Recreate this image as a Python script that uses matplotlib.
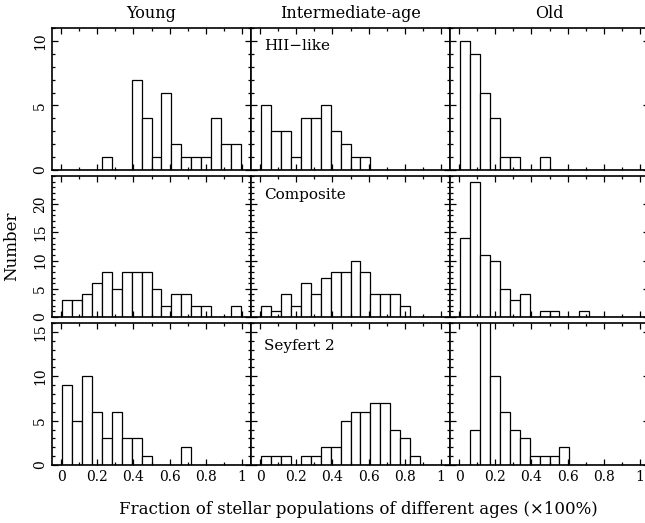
import numpy as np
import matplotlib
matplotlib.use('Agg')
import matplotlib.pyplot as plt
from matplotlib.ticker import MultipleLocator

plt.rcParams['font.family'] = 'DejaVu Serif'

# 20 bins from -0.05 to 1.05
edges = np.linspace(-0.05, 1.05, 21)

young_hii = [0, 0, 0, 0, 0, 1, 0, 0, 7, 4, 1, 6, 2, 1, 1, 1, 4, 2, 2, 0]
inter_hii = [0, 5, 3, 3, 1, 4, 4, 5, 3, 2, 1, 1, 0, 0, 0, 0, 0, 0, 0, 0]
old_hii = [0, 10, 9, 6, 4, 1, 1, 0, 0, 1, 0, 0, 0, 0, 0, 0, 0, 0, 0, 0]

young_comp = [0, 3, 3, 4, 6, 8, 5, 8, 8, 8, 5, 2, 4, 4, 2, 2, 0, 0, 2, 0]
inter_comp = [0, 2, 1, 4, 2, 6, 4, 7, 8, 8, 10, 8, 4, 4, 4, 2, 0, 0, 0, 0]
old_comp = [0, 14, 24, 11, 10, 5, 3, 4, 0, 1, 1, 0, 0, 1, 0, 0, 0, 0, 0, 0]

young_sy2 = [0, 9, 5, 10, 6, 3, 6, 3, 3, 1, 0, 0, 0, 2, 0, 0, 0, 0, 0, 0]
inter_sy2 = [0, 1, 1, 1, 0, 1, 1, 2, 2, 5, 6, 6, 7, 7, 4, 3, 1, 0, 0, 0]
old_sy2 = [0, 0, 4, 19, 10, 6, 4, 3, 1, 1, 1, 2, 0, 0, 0, 0, 0, 0, 0, 0]

rows = [[young_hii, inter_hii, old_hii],
        [young_comp, inter_comp, old_comp],
        [young_sy2, inter_sy2, old_sy2]]
row_names = ['HII\u2212like', 'Composite', 'Seyfert 2']
row_ymax = [11, 25, 16]
row_yticks = [[0, 5, 10], [0, 5, 10, 15, 20], [0, 5, 10, 15]]
row_label_y = [0.87, 0.865, 0.835]
col_names = ['Young', 'Intermediate-age', 'Old']

W, H = 645, 523
fig = plt.figure(figsize=(W / 100, H / 100), dpi=100)

col_x = [52, 251, 450]
col_w = 199
row_top = [28, 176, 323]
row_h = [142, 141, 142]

for i in range(3):
    for j in range(3):
        ax = fig.add_axes([col_x[j] / W, (H - row_top[i] - row_h[i]) / H,
                           col_w / W, row_h[i] / H])
        ax.bar(edges[:-1], rows[i][j], width=np.diff(edges), align='edge',
               facecolor='white', edgecolor='black', linewidth=0.9)
        ax.set_xlim(-0.05, 1.05)
        ax.set_ylim(0, row_ymax[i])
        ax.set_xticks([0, 0.2, 0.4, 0.6, 0.8, 1.0])
        ax.xaxis.set_minor_locator(MultipleLocator(0.1))
        ax.set_yticks(row_yticks[i])
        ax.yaxis.set_minor_locator(MultipleLocator(1))
        ax.tick_params(which='both', direction='in', top=True, right=True,
                       width=0.9, labelsize=10)
        ax.tick_params(which='major', length=4.5)
        ax.tick_params(which='minor', length=2.2)
        ax.tick_params(axis='y', labelrotation=90)
        for s in ax.spines.values():
            s.set_linewidth(1.2)
        if i == 2:
            ax.set_xticklabels(['0', '0.2', '0.4', '0.6', '0.8', '1'])
        else:
            ax.tick_params(labelbottom=False)
        if j != 0:
            ax.tick_params(labelleft=False)
        else:
            for t in ax.get_yticklabels():
                t.set_va('center')
        if i == 0:
            ax.set_title(col_names[j], fontsize=11.5, pad=7)
        if j == 1:
            ax.text(0.065, row_label_y[i], row_names[i], transform=ax.transAxes,
                    fontsize=11, va='center', ha='left')

fig.text(12 / W, 1 - 246 / H, 'Number', rotation=90, fontsize=12,
         ha='center', va='center')
fig.text(358 / W, 1 - 510 / H,
         'Fraction of stellar populations of different ages (\u00d7100%)',
         fontsize=12, ha='center', va='center')

fig.savefig('out.png', dpi=100)
